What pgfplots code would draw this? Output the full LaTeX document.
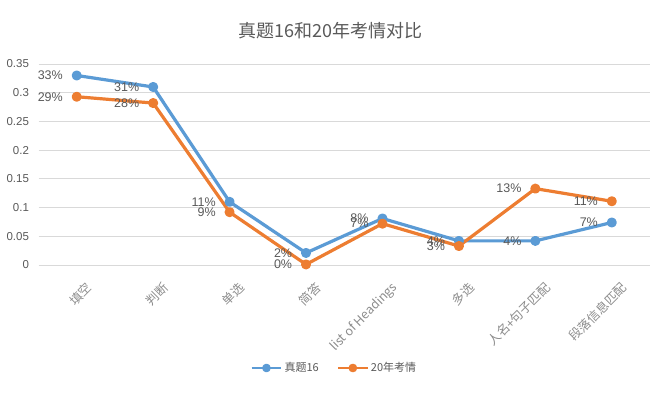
\documentclass[border=0pt]{standalone}
\usepackage{pgfplots}
\pgfplotsset{compat=1.18}
\usepackage{fontspec}
\setmainfont{Liberation Sans}
\newfontfamily\cjk{Noto Sans CJK SC}
\definecolor{sblue}{HTML}{5B9BD5}
\definecolor{sorange}{HTML}{ED7D31}
\definecolor{tgray}{HTML}{595959}
\definecolor{lgray}{HTML}{8C8C8C}
\definecolor{ggray}{HTML}{D9D9D9}
\begin{document}
\begin{tikzpicture}
\useasboundingbox (-38.5pt,-130pt) rectangle (621.5pt,265pt);
\begin{axis}[
  scale only axis, width=611.5pt, height=201pt,
  xmin=-0.5, xmax=7.5, ymin=0, ymax=0.35,
  clip=false,
  axis line style={draw=none},
  major tick style={draw=none},
  ymajorgrids, grid style={ggray, line width=0.8pt},
  ytick={0,0.05,0.1,0.15,0.2,0.25,0.3,0.35},
  yticklabels={0,0.05,0.1,0.15,0.2,0.25,0.3,0.35},
  yticklabel style={anchor=east, xshift=-6pt, text=tgray, font=\fontsize{11.5}{13}\selectfont},
  xtick={0,1,2,3,4,5,6,7},
  xticklabels={填空,判断,单选,简答,list of Headings,多选,人名+句子匹配,段落信息匹配},
  xticklabel style={rotate=45, anchor=north east, text=lgray, font=\cjk\fontsize{12.5}{14}\selectfont, xshift=-2pt, yshift=-14pt},
  title={真题16和20年考情对比},
  title style={at={(0.5,1)}, anchor=center, yshift=27pt, xshift=-14pt, font=\cjk\fontsize{18}{20}\selectfont, text=tgray},
  legend style={at={(0.5,0)}, anchor=center, yshift=-103pt, xshift=-10pt, draw=none, font=\cjk\fontsize{11}{13}\selectfont, text=tgray, /tikz/every even column/.append style={column sep=16pt}},
  legend columns=2,
  legend image code/.code={\draw[mark repeat=2, mark phase=2, #1, line width=2.6pt, mark size=3pt] plot coordinates {(0cm,0cm) (0.52cm,0cm) (1.04cm,0cm)};},
  nodes near coords,
  point meta=explicit symbolic,
  every node near coord/.append style={anchor=east, xshift=-9pt, text=tgray, font=\fontsize{12.5}{14}\selectfont},
]
\addplot[sblue, line width=3.2pt, line join=round, mark=*, mark size=3.4pt, mark options={solid, fill=sblue}]
coordinates {(0,0.33)[33\%] (1,0.31)[31\%] (2,0.11)[11\%] (3,0.021)[2\%] (4,0.081)[8\%] (5,0.042)[4\%] (6,0.042)[4\%] (7,0.074)[7\%]};
\addlegendentry{真题16}
\addplot[sorange, line width=3.2pt, line join=round, mark=*, mark size=3.4pt, mark options={solid, fill=sorange}]
coordinates {(0,0.293)[29\%] (1,0.282)[28\%] (2,0.092)[9\%] (3,0.001)[0\%] (4,0.072)[7\%] (5,0.033)[3\%] (6,0.133)[13\%] (7,0.111)[11\%]};
\addlegendentry{20年考情}
\end{axis}
\end{tikzpicture}
\end{document}
